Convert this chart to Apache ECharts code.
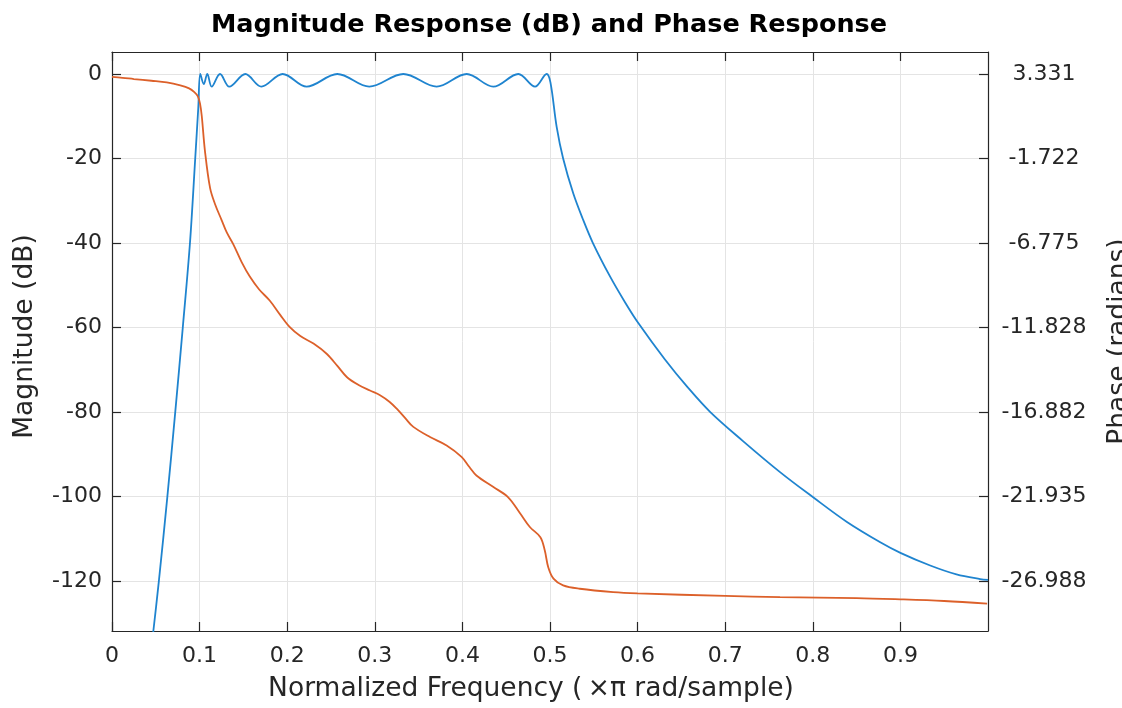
<!DOCTYPE html>
<html><head><meta charset="utf-8">
<script src="https://cdn.jsdelivr.net/npm/echarts@6/dist/echarts.min.js"></script>
<style>html,body{margin:0;padding:0;background:#fff}#c{width:1122px;height:708px}</style>
</head><body><div id="c"></div>
<script>
// ---- data ----
const magFreq = [0.044,0.0472,0.0535,0.0632,0.0722,0.0808,0.089,0.095,0.0985,0.1008,0.1048,0.1088,0.1138,0.1233,0.1339,0.1522,0.1705,0.1948,0.2222,0.2572,0.2937,0.3326,0.3706,0.4049,0.4353,0.4638,0.4829,0.4962,0.5005,0.5076,0.515,0.5266,0.538,0.549,0.5685,0.5856,0.601,0.631,0.657,0.683,0.72,0.7626,0.8,0.839,0.877,0.9,0.934,0.964,0.991,1.0];
const magDb = [-137.6,-131.8,-120,-100,-80,-60,-40,-20,-8,0,-2.4,0,-3,0,-3,0,-3,0,-3,0,-3,0,-3,0,-3,0,-3,0,-2,-12.5,-20,-28.3,-34.6,-40.0,-47.9,-54.0,-59.0,-67.5,-74.1,-80,-86.8,-94.2,-100.1,-106.0,-110.8,-113.3,-116.3,-118.4,-119.5,-119.7];
const phaseFreq = [0,0.012,0.025,0.045,0.0625,0.078,0.088,0.094,0.098,0.1005,0.1025,0.106,0.112,0.118,0.125,0.131,0.1385,0.148,0.1575,0.168,0.18,0.192,0.203,0.215,0.23,0.245,0.257,0.268,0.2815,0.2945,0.306,0.317,0.325,0.335,0.344,0.363,0.382,0.399,0.408,0.416,0.435,0.452,0.466,0.477,0.489,0.494,0.498,0.504,0.515,0.534,0.572,0.6,0.7,0.7626,0.85,0.9,0.95,0.999];
const phaseRad = [3.154,3.104,3.028,2.927,2.826,2.649,2.472,2.245,1.992,1.562,0.804,-1.217,-3.491,-4.501,-5.386,-6.144,-6.851,-7.912,-8.797,-9.555,-10.212,-11.071,-11.803,-12.334,-12.789,-13.395,-14.103,-14.784,-15.265,-15.593,-15.871,-16.275,-16.680,-17.261,-17.767,-18.373,-18.878,-19.560,-20.166,-20.672,-21.351,-21.961,-22.946,-23.754,-24.361,-25.144,-26.155,-26.837,-27.241,-27.443,-27.645,-27.721,-27.873,-27.948,-27.999,-28.075,-28.176,-28.327];
const xTicks = [0,0.1,0.2,0.3,0.4,0.5,0.6,0.7,0.8,0.9];
const magTicks = [-120,-100,-80,-60,-40,-20,0];
const phaseTickLabels = ['3.331','-1.722','-6.775','-11.828','-16.882','-21.935','-26.988'];
const magRange = [-131.8, 5.2];

// right axis is a linear relabelling of the left one (ticks line up)
const p0 = parseFloat(phaseTickLabels[0]);
const pStep = (p0 - parseFloat(phaseTickLabels[phaseTickLabels.length-1])) / (phaseTickLabels.length-1);
const toPhase = m => p0 + m / 20 * pStep;
const phaseTicks = phaseTickLabels.map(Number);

const FONT = 'DejaVu Sans';
const TXT = '#262626';
const AX = '#262626';
const GRID = '#e4e4e4';

const chart = echarts.init(document.getElementById('c'), null, {renderer:'canvas'});
chart.setOption({
  animation:false,
  backgroundColor:'#fff',
  title:{
    text:'Magnitude Response (dB) and Phase Response',
    left:544, top:7, textAlign:'center',
    textStyle:{fontFamily:FONT, fontWeight:'bold', fontSize:25.5, color:'#000'}
  },
  grid:{left:112, right:134, top:52, bottom:77, containLabel:false, outerBoundsMode:'none'},
  xAxis:[{
    type:'value', min:0, max:1, position:'bottom',
    name:'Normalized Frequency (\u2009×π rad/sample)', nameLocation:'middle', nameGap:45,
    nameTextStyle:{fontFamily:FONT, fontSize:26.5, color:TXT, padding:[0,38,0,0]},
    axisLine:{show:true, onZero:false, lineStyle:{color:AX, width:1.2}},
    axisTick:{show:true, inside:true, length:9, customValues:xTicks, lineStyle:{color:AX, width:1.2}},
    axisLabel:{customValues:xTicks, margin:14, fontFamily:FONT, fontSize:22, color:TXT,
      formatter:v=>String(v)},
    splitLine:{show:true, lineStyle:{color:GRID, width:1}}
  },{
    type:'value', min:0, max:1, position:'top',
    axisLine:{show:true, onZero:false, lineStyle:{color:AX, width:1.2}},
    axisTick:{show:true, inside:true, length:9, customValues:xTicks, lineStyle:{color:AX, width:1.2}},
    axisLabel:{show:false}, splitLine:{show:false}
  }],
  yAxis:[{
    type:'value', min:magRange[0], max:magRange[1], position:'left',
    name:'Magnitude (dB)', nameLocation:'middle', nameGap:73, nameRotate:90,
    nameTextStyle:{fontFamily:FONT, fontSize:26.5, color:TXT, padding:[0,0,0,10]},
    axisLine:{show:true, onZero:false, lineStyle:{color:AX, width:1.2}},
    axisTick:{show:true, inside:true, length:9, customValues:magTicks, lineStyle:{color:AX, width:1.2}},
    axisLabel:{customValues:magTicks, margin:10, fontFamily:FONT, fontSize:22, color:TXT},
    splitLine:{show:true, lineStyle:{color:GRID, width:1}}
  },{
    type:'value', min:toPhase(magRange[0]), max:toPhase(magRange[1]), position:'right',
    name:'Phase (radians)', nameLocation:'middle', nameGap:118, nameRotate:90,
    nameTextStyle:{fontFamily:FONT, fontSize:26.5, color:TXT},
    axisLine:{show:true, onZero:false, lineStyle:{color:AX, width:1.2}},
    axisTick:{show:true, inside:true, length:9, customValues:phaseTicks, lineStyle:{color:AX, width:1.2}},
    axisLabel:{customValues:phaseTicks, margin:56, align:'center', fontFamily:FONT, fontSize:22, color:TXT,
      formatter:v=>v.toFixed(3)},
    splitLine:{show:false}
  }],
  series:[{
    name:'Magnitude', type:'line', xAxisIndex:0, yAxisIndex:0,
    data:magFreq.map((f,i)=>[f, magDb[i]]),
    showSymbol:false, smooth:0.35, clip:true,
    lineStyle:{color:'#1f84cf', width:1.8}
  },{
    name:'Phase', type:'line', xAxisIndex:0, yAxisIndex:1,
    data:phaseFreq.map((f,i)=>[f, phaseRad[i]]),
    showSymbol:false, smooth:0.35, clip:true,
    lineStyle:{color:'#dc602a', width:1.8}
  }]
});
</script></body></html>
